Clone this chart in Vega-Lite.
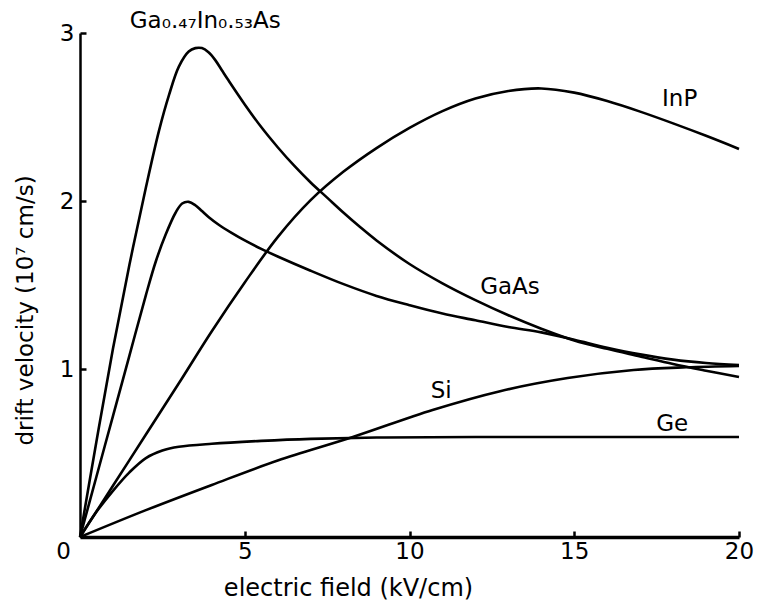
{
  "$schema": "https://vega.github.io/schema/vega-lite/v6.json",
  "width": 659,
  "height": 504,
  "autosize": {"type": "none"},
  "padding": {"left": 80, "top": 33, "right": 18, "bottom": 79},
  "background": "white",
  "config": {
    "view": {"stroke": null},
    "font": "DejaVu Sans",
    "axis": {
      "domainColor": "black",
      "tickColor": "black",
      "labelColor": "black",
      "titleColor": "black",
      "labelFont": "DejaVu Sans",
      "titleFont": "DejaVu Sans",
      "labelFontSize": 23,
      "titleFontSize": 23,
      "titleFontWeight": "normal",
      "grid": false
    }
  },
  "datasets": {
    "curves": [
      {"material": "GaInAs", "E": 0, "v": 0},
      {"material": "GaInAs", "E": 0.5, "v": 0.57},
      {"material": "GaInAs", "E": 1.0, "v": 1.12},
      {"material": "GaInAs", "E": 1.5, "v": 1.62},
      {"material": "GaInAs", "E": 2.0, "v": 2.08},
      {"material": "GaInAs", "E": 2.4, "v": 2.42},
      {"material": "GaInAs", "E": 2.7, "v": 2.63},
      {"material": "GaInAs", "E": 3.0, "v": 2.8},
      {"material": "GaInAs", "E": 3.3, "v": 2.89},
      {"material": "GaInAs", "E": 3.5, "v": 2.91},
      {"material": "GaInAs", "E": 3.7, "v": 2.91},
      {"material": "GaInAs", "E": 3.9, "v": 2.885},
      {"material": "GaInAs", "E": 4.1, "v": 2.84},
      {"material": "GaInAs", "E": 4.3, "v": 2.78},
      {"material": "GaInAs", "E": 4.5, "v": 2.72},
      {"material": "GaInAs", "E": 5.0, "v": 2.575},
      {"material": "GaInAs", "E": 5.5, "v": 2.44},
      {"material": "GaInAs", "E": 6.0, "v": 2.32},
      {"material": "GaInAs", "E": 6.5, "v": 2.21},
      {"material": "GaInAs", "E": 7.0, "v": 2.11},
      {"material": "GaInAs", "E": 7.5, "v": 2.02},
      {"material": "GaInAs", "E": 8.0, "v": 1.93},
      {"material": "GaInAs", "E": 8.5, "v": 1.845},
      {"material": "GaInAs", "E": 9, "v": 1.765},
      {"material": "GaInAs", "E": 10, "v": 1.625},
      {"material": "GaInAs", "E": 11, "v": 1.51},
      {"material": "GaInAs", "E": 12, "v": 1.41},
      {"material": "GaInAs", "E": 13, "v": 1.32},
      {"material": "GaInAs", "E": 14, "v": 1.24},
      {"material": "GaInAs", "E": 15, "v": 1.17},
      {"material": "GaInAs", "E": 16, "v": 1.12},
      {"material": "GaInAs", "E": 17, "v": 1.075},
      {"material": "GaInAs", "E": 18, "v": 1.03},
      {"material": "GaInAs", "E": 19, "v": 0.99},
      {"material": "GaInAs", "E": 20, "v": 0.952},

      {"material": "GaAs", "E": 0, "v": 0},
      {"material": "GaAs", "E": 0.5, "v": 0.36},
      {"material": "GaAs", "E": 1.0, "v": 0.72},
      {"material": "GaAs", "E": 1.5, "v": 1.08},
      {"material": "GaAs", "E": 2.0, "v": 1.44},
      {"material": "GaAs", "E": 2.3, "v": 1.64},
      {"material": "GaAs", "E": 2.6, "v": 1.8},
      {"material": "GaAs", "E": 2.9, "v": 1.93},
      {"material": "GaAs", "E": 3.1, "v": 1.985},
      {"material": "GaAs", "E": 3.3, "v": 1.995},
      {"material": "GaAs", "E": 3.5, "v": 1.975},
      {"material": "GaAs", "E": 3.7, "v": 1.94},
      {"material": "GaAs", "E": 3.9, "v": 1.905},
      {"material": "GaAs", "E": 4.2, "v": 1.86},
      {"material": "GaAs", "E": 4.6, "v": 1.81},
      {"material": "GaAs", "E": 5.0, "v": 1.765},
      {"material": "GaAs", "E": 5.5, "v": 1.715},
      {"material": "GaAs", "E": 6, "v": 1.67},
      {"material": "GaAs", "E": 7, "v": 1.585},
      {"material": "GaAs", "E": 8, "v": 1.505},
      {"material": "GaAs", "E": 9, "v": 1.435},
      {"material": "GaAs", "E": 10, "v": 1.38},
      {"material": "GaAs", "E": 11, "v": 1.33},
      {"material": "GaAs", "E": 12, "v": 1.29},
      {"material": "GaAs", "E": 13, "v": 1.25},
      {"material": "GaAs", "E": 14, "v": 1.218},
      {"material": "GaAs", "E": 15, "v": 1.174},
      {"material": "GaAs", "E": 16, "v": 1.127},
      {"material": "GaAs", "E": 17, "v": 1.087},
      {"material": "GaAs", "E": 18, "v": 1.056},
      {"material": "GaAs", "E": 19, "v": 1.036},
      {"material": "GaAs", "E": 20, "v": 1.024},

      {"material": "InP", "E": 0, "v": 0},
      {"material": "InP", "E": 1, "v": 0.305},
      {"material": "InP", "E": 2, "v": 0.61},
      {"material": "InP", "E": 3, "v": 0.915},
      {"material": "InP", "E": 4, "v": 1.225},
      {"material": "InP", "E": 5, "v": 1.515},
      {"material": "InP", "E": 6, "v": 1.785},
      {"material": "InP", "E": 7, "v": 2.005},
      {"material": "InP", "E": 8, "v": 2.175},
      {"material": "InP", "E": 9, "v": 2.315},
      {"material": "InP", "E": 10, "v": 2.435},
      {"material": "InP", "E": 11, "v": 2.535},
      {"material": "InP", "E": 12, "v": 2.61},
      {"material": "InP", "E": 13, "v": 2.655},
      {"material": "InP", "E": 14, "v": 2.67},
      {"material": "InP", "E": 15, "v": 2.645},
      {"material": "InP", "E": 16, "v": 2.595},
      {"material": "InP", "E": 17, "v": 2.532},
      {"material": "InP", "E": 18, "v": 2.462},
      {"material": "InP", "E": 19, "v": 2.388},
      {"material": "InP", "E": 20, "v": 2.31},

      {"material": "Ge", "E": 0, "v": 0},
      {"material": "Ge", "E": 0.5, "v": 0.15},
      {"material": "Ge", "E": 1.0, "v": 0.275},
      {"material": "Ge", "E": 1.5, "v": 0.385},
      {"material": "Ge", "E": 2.0, "v": 0.47},
      {"material": "Ge", "E": 2.5, "v": 0.515},
      {"material": "Ge", "E": 3.0, "v": 0.537},
      {"material": "Ge", "E": 4.0, "v": 0.555},
      {"material": "Ge", "E": 5.5, "v": 0.572},
      {"material": "Ge", "E": 7, "v": 0.584},
      {"material": "Ge", "E": 9, "v": 0.592},
      {"material": "Ge", "E": 12, "v": 0.595},
      {"material": "Ge", "E": 20, "v": 0.595},

      {"material": "Si", "E": 0, "v": 0},
      {"material": "Si", "E": 2, "v": 0.16},
      {"material": "Si", "E": 4, "v": 0.31},
      {"material": "Si", "E": 6, "v": 0.455},
      {"material": "Si", "E": 8.28, "v": 0.595},
      {"material": "Si", "E": 10.7, "v": 0.756},
      {"material": "Si", "E": 12.75, "v": 0.868},
      {"material": "Si", "E": 14.8, "v": 0.946},
      {"material": "Si", "E": 16.8, "v": 0.994},
      {"material": "Si", "E": 18.4, "v": 1.01},
      {"material": "Si", "E": 20, "v": 1.018}
    ],
    "labels": [
      {"name": "Ga₀.₄₇In₀.₅₃As", "E": 3.8, "v": 3.07},
      {"name": "InP", "E": 18.2, "v": 2.61},
      {"name": "GaAs", "E": 13.05, "v": 1.49},
      {"name": "Si", "E": 10.96, "v": 0.87},
      {"name": "Ge", "E": 17.97, "v": 0.67}
    ]
  },
  "resolve": {"axis": {"x": "independent", "y": "independent"}},
  "layer": [
    {
      "data": {"name": "curves"},
      "mark": {"type": "line", "color": "black", "strokeWidth": 2.6, "interpolate": "catmull-rom", "clip": false},
      "encoding": {
        "x": {
          "field": "E",
          "type": "quantitative",
          "scale": {"domain": [0, 20], "nice": false, "zero": false},
          "axis": {
            "orient": "bottom",
            "title": "electric field (kV/cm)",
            "titleFontSize": 24,
            "values": [0, 5, 10, 15, 20],
            "format": "d",
            "domainWidth": 3.5,
            "ticks": false,
            "labelPadding": 3,
            "labelFlush": false,
            "labelOffset": {"condition": {"test": "datum.value === 0", "value": -17}, "value": 0},
            "titleX": 268,
            "titleY": 51,
            "titleAlign": "center",
            "titleBaseline": "middle",
            "titleAnchor": null
          }
        },
        "y": {
          "field": "v",
          "type": "quantitative",
          "scale": {"domain": [0, 3], "nice": false},
          "axis": {
            "orient": "left",
            "title": "drift velocity (10⁷ cm/s)",
            "values": [1, 2, 3],
            "format": "d",
            "domainWidth": 2.5,
            "ticks": false,
            "labelPadding": 6,
            "labelFlush": false,
            "titleX": -55,
            "titleY": 277,
            "titleAlign": "center",
            "titleBaseline": "middle",
            "titleAnchor": null
          }
        },
        "detail": {"field": "material", "type": "nominal"}
      }
    },
    {
      "data": {"name": "labels"},
      "mark": {"type": "text", "color": "black", "fontSize": 23, "font": "DejaVu Sans", "align": "center", "baseline": "middle"},
      "encoding": {
        "x": {
          "field": "E",
          "type": "quantitative",
          "axis": {
            "orient": "top",
            "offset": -504,
            "values": [5, 10, 15, 20],
            "labels": false,
            "domain": false,
            "ticks": true,
            "tickSize": 6,
            "tickWidth": 2.5,
            "title": null
          }
        },
        "y": {
          "field": "v",
          "type": "quantitative",
          "axis": {
            "orient": "right",
            "offset": -659,
            "values": [1, 2, 3],
            "labels": false,
            "domain": false,
            "ticks": true,
            "tickSize": 6,
            "tickWidth": 2.5,
            "title": null
          }
        },
        "text": {"field": "name", "type": "nominal"}
      }
    }
  ]
}
